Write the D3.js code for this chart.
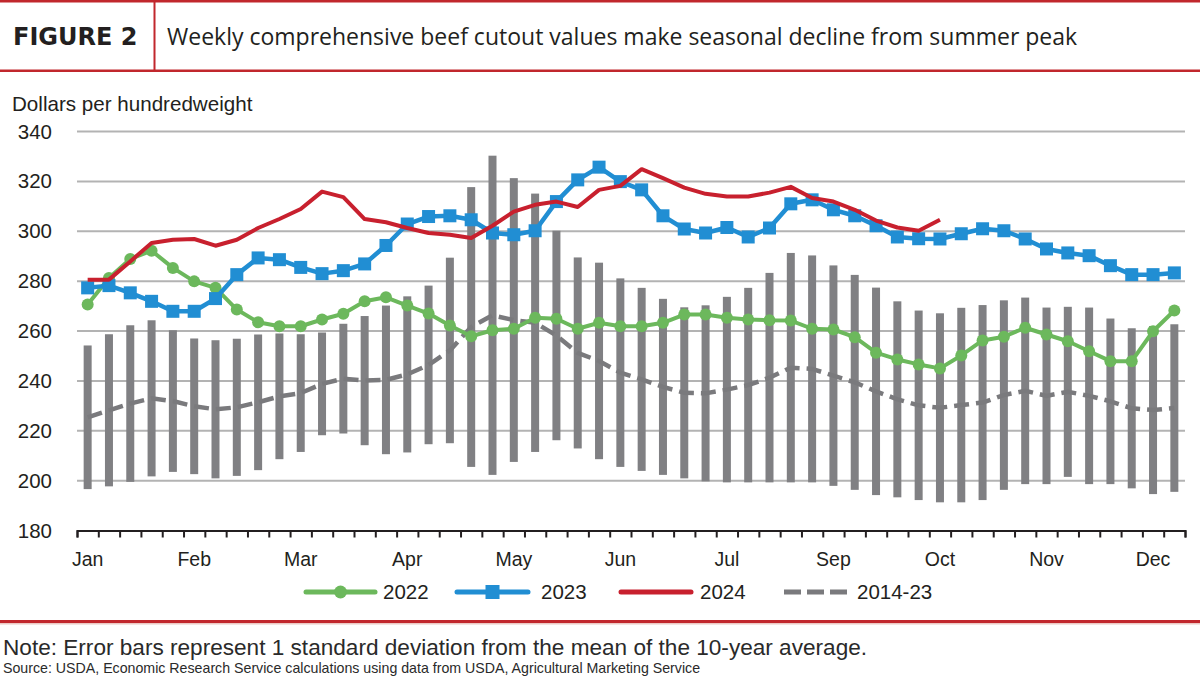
<!DOCTYPE html>
<html>
<head>
<meta charset="utf-8">
<script src="https://cdn.jsdelivr.net/npm/d3@7"></script>
<style>
  html, body { margin: 0; padding: 0; background: #fff; }
  svg { display: block; }
</style>
</head>
<body>
<svg id="chart" width="1200" height="681"></svg>
<script>
// ---------------- DATA ----------------
const weeks = d3.range(52);
const monthNames = ["Jan","Feb","Mar","Apr","May","Jun","Jul","Sep","Oct","Nov","Dec"];
const monthWeeks = [0,5,10,15,20,25,30,35,40,45,50];
const yTicks = [180,200,220,240,260,280,300,320,340];

const s2022 = [270.6,281.3,288.9,292.2,285.3,279.9,277.3,268.6,263.5,261.9,
               261.9,264.6,266.9,271.9,273.5,270.2,267.0,262.2,257.9,260.3,
               260.9,265.3,264.9,260.9,263.3,261.9,261.9,263.3,266.6,266.6,
               265.3,264.6,264.3,264.2,260.9,260.6,257.5,251.3,248.6,246.6,
               245.0,250.2,256.2,257.7,261.3,258.6,255.9,251.9,247.9,247.9,
               259.9,268.2];
const s2023 = [277.3,278.2,275.3,271.9,267.9,267.9,273.0,282.6,289.3,288.6,
               285.5,283.0,284.2,286.9,294.3,302.9,305.9,306.2,304.6,299.3,
               298.6,300.2,311.9,320.6,325.7,319.9,316.6,306.2,300.9,299.3,
               301.5,297.7,301.3,311.0,312.6,308.6,306.2,302.2,297.7,297.0,
               296.9,299.0,301.0,300.2,296.9,292.9,291.3,290.2,286.2,282.6,
               282.6,283.3];
const s2024 = [280.6,280.6,287.9,295.3,296.6,296.9,294.2,296.6,301.3,304.9,
               308.9,315.9,313.7,304.9,303.6,301.3,299.3,298.6,297.3,302.2,
               307.9,310.6,311.9,309.7,316.6,318.2,324.9,321.3,317.5,315.0,
               313.9,313.9,315.5,317.8,313.3,311.9,308.6,304.3,301.5,300.2,
               304.6];
const avg1423 = [225.4,228.2,230.9,233.0,231.9,229.8,228.6,229.4,231.4,233.8,
                 235.1,238.8,240.9,240.1,240.4,242.6,246.4,252.2,261.6,266.3,
                 264.4,263.3,258.2,251.2,248.0,243.3,240.6,237.6,235.2,235.0,
                 236.5,238.3,241.3,245.3,244.8,242.1,239.4,235.8,232.6,230.2,
                 229.2,230.3,231.3,234.3,236.0,234.0,235.6,234.0,231.8,229.0,
                 228.3,229.1];
const sd1423 = [28.8,30.5,31.4,31.3,28.4,27.2,27.7,27.5,27.2,25.2,
                23.6,20.6,22.0,25.9,29.8,31.3,31.8,37.2,56.1,64.0,
                56.9,51.8,42.0,38.3,39.4,37.8,36.7,35.3,34.3,35.3,
                37.2,39.0,42.0,46.0,45.5,44.2,43.1,41.6,39.3,38.0,
                37.9,39.0,39.1,38.0,37.4,35.4,34.1,35.4,33.2,32.1,
                33.7,33.6];
const legendLabels = ["2022","2023","2024","2014-23"];

// ---------------- STYLE ----------------
const RED = "#c1272d", GREEN = "#6cb85c", BLUE = "#218ed3", LINE_RED = "#c8202e", GRAY = "#808083", DASH = "#7a7a7d";
const FONT = "'Liberation Sans', Arial, sans-serif";

const svg = d3.select("#chart");
const L = 77, R = 1185, T = 131.5, B = 530.5;

const x = d3.scaleBand().domain(weeks).range([L, R]).padding(0);
const xl = d3.scaleLinear().domain([0, 52]).range([L, R]);
const y = d3.scaleLinear().domain([180, 340]).range([B, T]);
const cx = i => x(i) + x.bandwidth() / 2;

// header
svg.append("rect").attr("x", 0).attr("y", 0).attr("width", 1200).attr("height", 2.5).attr("fill", RED);
svg.append("rect").attr("x", 0).attr("y", 69.5).attr("width", 1200).attr("height", 2.5).attr("fill", RED);
svg.append("rect").attr("x", 153.5).attr("y", 1).attr("width", 2).attr("height", 70).attr("fill", RED);
svg.append("text").attr("x", 13).attr("y", 45).text("FIGURE 2")
  .attr("font-family", "'DejaVu Sans', sans-serif").attr("font-weight", "bold").attr("font-size", 24).attr("fill", "#231f20");
svg.append("text").attr("x", 167).attr("y", 45).text("Weekly comprehensive beef cutout values make seasonal decline from summer peak")
  .attr("font-family", "'Open Sans', sans-serif").attr("font-size", 23).attr("fill", "#231f20");

// y title
svg.append("text").attr("x", 12).attr("y", 111).text("Dollars per hundredweight")
  .attr("font-family", FONT).attr("font-size", 20.6).attr("fill", "#231f20");

// gridlines
svg.append("g").selectAll("line").data(yTicks.filter(v => v > 180)).join("line")
  .attr("x1", L).attr("x2", R).attr("y1", d => y(d)).attr("y2", d => y(d))
  .attr("stroke", "#b3b3b3").attr("stroke-width", 2);

// y axis labels
const yAxis = svg.append("g").attr("transform", `translate(${L},0)`)
  .call(d3.axisLeft(y).tickValues(yTicks).tickSize(0).tickPadding(25));
yAxis.select(".domain").remove();
yAxis.selectAll("text").attr("font-family", FONT).attr("font-size", 20.5).attr("fill", "#231f20");

// x axis tick marks
const xAxis = svg.append("g").attr("transform", `translate(0,${B})`)
  .call(d3.axisBottom(xl).tickValues(d3.range(53)).tickSize(7).tickFormat(""));
xAxis.select(".domain").attr("stroke", "#231f20").attr("stroke-width", 2);
xAxis.selectAll(".tick line").attr("stroke", "#231f20").attr("stroke-width", 2);

// month labels
const mAxis = svg.append("g").attr("transform", `translate(0,${B})`)
  .call(d3.axisBottom(x).tickValues(monthWeeks).tickSize(0).tickPadding(22)
    .tickFormat(d => monthNames[monthWeeks.indexOf(d)]));
mAxis.select(".domain").remove();
mAxis.selectAll("text").attr("font-family", FONT).attr("font-size", 19.5).attr("fill", "#231f20");

// error bars
svg.append("g").selectAll("rect").data(weeks).join("rect")
  .attr("x", i => cx(i) - 4).attr("width", 8)
  .attr("y", i => y(avg1423[i] + sd1423[i]))
  .attr("height", i => y(avg1423[i] - sd1423[i]) - y(avg1423[i] + sd1423[i]))
  .attr("fill", GRAY);

// avg dashed line
const line = d3.line().x((d, i) => cx(i)).y(d => y(d));
svg.append("path").datum(avg1423).attr("d", line).attr("fill", "none")
  .attr("stroke", DASH).attr("stroke-width", 4.5).attr("stroke-dasharray", "15,7");

// 2022
svg.append("path").datum(s2022).attr("d", line).attr("fill", "none")
  .attr("stroke", GREEN).attr("stroke-width", 4).attr("stroke-linejoin", "round");
svg.append("g").selectAll("circle").data(s2022).join("circle")
  .attr("cx", (d, i) => cx(i)).attr("cy", d => y(d)).attr("r", 6).attr("fill", GREEN);

// 2023
svg.append("path").datum(s2023).attr("d", line).attr("fill", "none")
  .attr("stroke", BLUE).attr("stroke-width", 4.5).attr("stroke-linejoin", "round");
svg.append("g").selectAll("rect").data(s2023).join("rect")
  .attr("x", (d, i) => cx(i) - 6.5).attr("y", d => y(d) - 6.5).attr("width", 13).attr("height", 13).attr("fill", BLUE);

// 2024
svg.append("path").datum(s2024).attr("d", line).attr("fill", "none")
  .attr("stroke", LINE_RED).attr("stroke-width", 4).attr("stroke-linejoin", "round");

// legend
const ly = 592;
const lg = svg.append("g");
const legItems = [
  {x0: 306, x1: 375, tx: 383, color: GREEN, marker: "circle"},
  {x0: 457, x1: 528, tx: 541, color: BLUE, marker: "square"},
  {x0: 621, x1: 691, tx: 700, color: LINE_RED, marker: null},
  {x0: 784, x1: 849, tx: 857, color: DASH, marker: null, dash: "17,6"}
];
legItems.forEach((it, k) => {
  lg.append("line").attr("x1", it.x0).attr("x2", it.x1).attr("y1", ly).attr("y2", ly)
    .attr("stroke", it.color).attr("stroke-width", 5).attr("stroke-linecap", it.dash ? "butt" : "round")
    .attr("stroke-dasharray", it.dash || null);
  const mx = (it.x0 + it.x1) / 2;
  if (it.marker === "circle") lg.append("circle").attr("cx", mx).attr("cy", ly).attr("r", 6.5).attr("fill", it.color);
  if (it.marker === "square") lg.append("rect").attr("x", mx - 7).attr("y", ly - 7).attr("width", 14).attr("height", 14).attr("fill", it.color);
  lg.append("text").attr("x", it.tx).attr("y", ly).attr("dy", "0.35em").text(legendLabels[k])
    .attr("font-family", FONT).attr("font-size", 20.5).attr("fill", "#231f20");
});

// bottom separator & notes
svg.append("rect").attr("x", 0).attr("y", 620).attr("width", 1200).attr("height", 3).attr("fill", RED);
svg.append("rect").attr("x", 0).attr("y", 623).attr("width", 1200).attr("height", 1.5).attr("fill", "#ecc9c4");
svg.append("text").attr("x", 3).attr("y", 655).text("Note: Error bars represent 1 standard deviation from the mean of the 10-year average.")
  .attr("font-family", FONT).attr("font-size", 22.6).attr("fill", "#2a2a2a");
svg.append("text").attr("x", 3).attr("y", 673).text("Source: USDA, Economic Research Service calculations using data from USDA, Agricultural Marketing Service")
  .attr("font-family", FONT).attr("font-size", 14.2).attr("fill", "#2a2a2a");
</script>
</body>
</html>
